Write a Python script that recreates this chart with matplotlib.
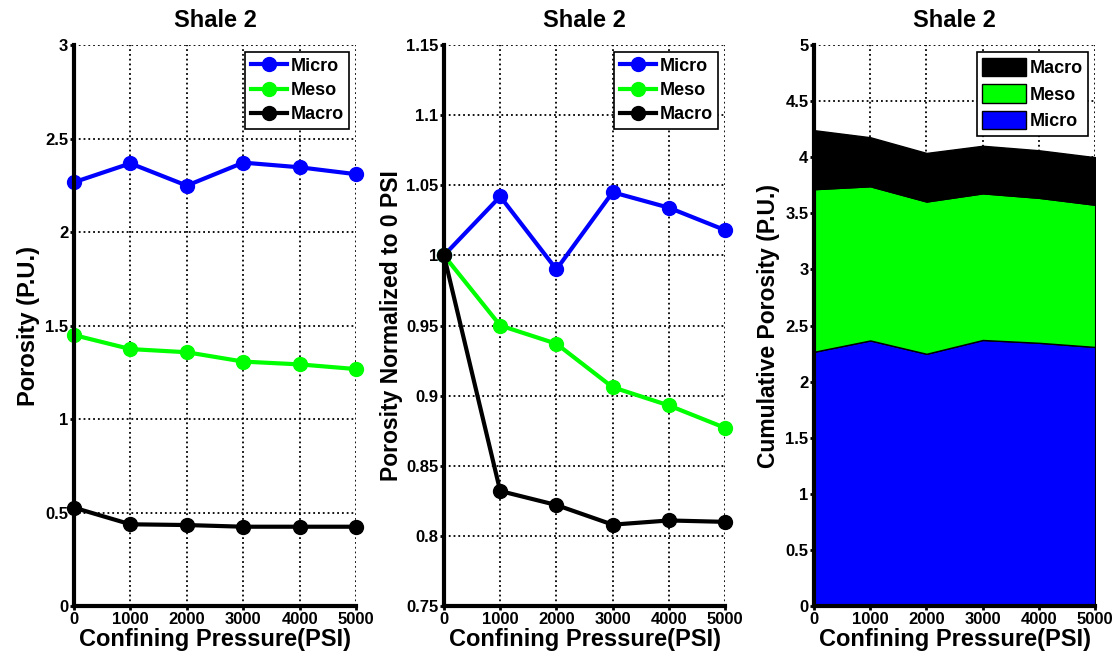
import matplotlib
matplotlib.use('Agg')
import matplotlib.pyplot as plt
from matplotlib.ticker import FuncFormatter

plt.rcParams['font.family'] = ['Liberation Sans', 'DejaVu Sans']
plt.rcParams['font.weight'] = 'bold'

pressure = [0, 1000, 2000, 3000, 4000, 5000]

micro = [2.266, 2.367, 2.248, 2.371, 2.346, 2.309]
meso = [1.449, 1.374, 1.357, 1.307, 1.292, 1.267]
macro = [0.526, 0.437, 0.433, 0.424, 0.424, 0.424]

micro_norm = [1.0, 1.042, 0.990, 1.045, 1.034, 1.018]
meso_norm = [1.0, 0.950, 0.937, 0.906, 0.893, 0.877]
macro_norm = [1.0, 0.832, 0.822, 0.808, 0.811, 0.810]

title = 'Shale 2'
xlabel = 'Confining Pressure(PSI)'

fig = plt.figure(figsize=(11.2, 6.56), dpi=100)
ax1 = fig.add_axes([0.066, 0.0762, 0.252, 0.8552])
ax2 = fig.add_axes([0.3964, 0.0762, 0.251, 0.8552])
ax3 = fig.add_axes([0.7268, 0.0762, 0.251, 0.8552])

fmt = FuncFormatter(lambda v, p: '%g' % round(v, 3))


def style(ax, ylim, ystep):
    ax.set_xlim(0, 5000)
    ax.set_ylim(*ylim)
    ax.set_xticks(pressure)
    n = int(round((ylim[1] - ylim[0]) / ystep))
    ax.set_yticks([ylim[0] + i * ystep for i in range(n + 1)])
    ax.yaxis.set_major_formatter(fmt)
    ax.spines['top'].set_visible(False)
    ax.spines['right'].set_visible(False)
    ax.spines['left'].set_linewidth(3)
    ax.spines['bottom'].set_linewidth(3)
    ax.tick_params(direction='out', length=3, width=2, labelsize=12, pad=1)
    ax.grid(True, linestyle=':', color='black', linewidth=1.3)
    ax.set_axisbelow(True)
    ax.set_title(title, fontsize=17, fontweight='bold', pad=13)
    ax.set_xlabel(xlabel, fontsize=17, fontweight='bold', labelpad=1)
    for lab in ax.get_xticklabels() + ax.get_yticklabels():
        lab.set_fontweight('bold')


lw = 3
ms = 10
ax1.plot(pressure, micro, '-o', color=(0, 0, 1), lw=lw, ms=ms, label='Micro', clip_on=False)
ax1.plot(pressure, meso, '-o', color=(0, 1, 0), lw=lw, ms=ms, label='Meso', clip_on=False)
ax1.plot(pressure, macro, '-o', color='black', lw=lw, ms=ms, label='Macro', clip_on=False)
style(ax1, (0, 3), 0.5)
ax1.set_ylabel('Porosity (P.U.)', fontsize=17, fontweight='bold', labelpad=4)

ax2.plot(pressure, micro_norm, '-o', color=(0, 0, 1), lw=lw, ms=ms, label='Micro', clip_on=False)
ax2.plot(pressure, meso_norm, '-o', color=(0, 1, 0), lw=lw, ms=ms, label='Meso', clip_on=False)
ax2.plot(pressure, macro_norm, '-o', color='black', lw=lw, ms=ms, label='Macro', clip_on=False)
style(ax2, (0.75, 1.15), 0.05)
ax2.set_ylabel('Porosity Normalized to 0 PSI', fontsize=16.5, fontweight='bold', labelpad=2)

polys = ax3.stackplot(pressure, micro, meso, macro,
                      colors=[(0, 0, 1), (0, 1, 0), 'black'],
                      labels=['Micro', 'Meso', 'Macro'],
                      edgecolor='black', linewidth=1)
style(ax3, (0, 5), 0.5)
ax3.set_ylabel('Cumulative Porosity (P.U.)', fontsize=16.5, fontweight='bold', labelpad=4)

leg_kw = dict(loc='upper right', fontsize=13, fancybox=False, framealpha=1,
              edgecolor='black', borderpad=0.3, labelspacing=0.4,
              handletextpad=0.2, borderaxespad=0.4)
for ax in (ax1, ax2):
    leg = ax.legend(handlelength=2.0, **leg_kw)
    leg.get_frame().set_linewidth(1.2)
    for t in leg.get_texts():
        t.set_fontweight('bold')

h, l = ax3.get_legend_handles_labels()
leg = ax3.legend(h[::-1], l[::-1], handlelength=2.4, handleheight=1.2, **leg_kw)
leg.get_frame().set_linewidth(1.2)
for t in leg.get_texts():
    t.set_fontweight('bold')

fig.savefig('out.png', dpi=100)
